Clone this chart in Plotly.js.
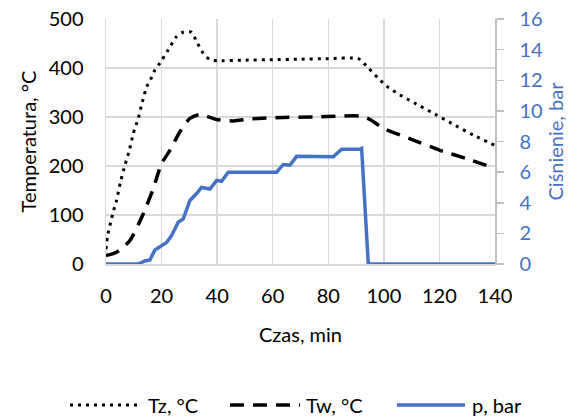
<!DOCTYPE html>
<html><head><meta charset="utf-8">
<script src="https://cdn.plot.ly/plotly-3.0.1.min.js"></script>
<style>html,body{margin:0;padding:0;background:#fff}#chart{width:587px;height:419px}</style>
</head><body><div id="chart"></div>
<script>
// Tz, °C
const tzTime = [0,0.5,2.4,3.8,5.2,6.8,8.4,9.8,11.6,13.1,14.6,16,17.6,19.4,22.4,25.4,27.8,30.8,32.6,35,37.4,40,50,60,70,80,90.8,94.4,98,101,105.8,111.2,119,124.4,132.2,140];
const tzVals = [30,55,102,130,167,201,232,266,297,331,361,376,396,410,437,464,473,473,454,430,417,415,416,417,418,419,419,400,379,363,345,328,304,287,263,242];
// Tw, °C
const twTime = [0,3.8,8.6,13.4,17,20,23,26.6,30.2,33.8,39.8,45.8,51.8,63.8,74.6,84.2,91.4,95,99.8,110.6,120.2,129.8,140];
const twVals = [17,24,48,102,154,205,232,270,297,305,295,292,296,299,300,302,302,295,277,253,232,215,195];
// p, bar
const pTime = [0,11.6,14,15.8,17.6,20,21.8,23.6,26,27.8,29,30.2,32.6,34.4,37.4,39.8,41.6,44,61.4,63.8,66.2,68.6,81.8,84.8,91.4,92,94.4,140];
const pVals = [0,0,0.2,0.26,0.92,1.2,1.4,1.86,2.73,2.95,3.5,4.15,4.6,5.0,4.9,5.46,5.4,6.0,6.0,6.5,6.45,7.03,7.0,7.5,7.5,7.55,0,0];

const xTicks = [0,20,40,60,80,100,120,140];
const yTicks = [0,100,200,300,400,500];
const y2Ticks = [0,2,4,6,8,10,12,14,16];
const names = ['Tz, °C','Tw, °C','p, bar'];

const FONT = 'Lato, "Open Sans", sans-serif';
const FS = 20;
const BLUE = '#4472C4';
const GRID = '#d9d9d9';

const traces = [
  {x: tzTime, y: tzVals, name: names[0], mode: 'lines', line: {color: '#000', width: 3, dash: '3px,5px', shape: 'spline', smoothing: 0.6}, yaxis: 'y'},
  {x: twTime, y: twVals, name: names[1], mode: 'lines', line: {color: '#000', width: 3.5, dash: '14px,9px', shape: 'spline', smoothing: 0.6}, yaxis: 'y'},
  {x: pTime, y: pVals, name: names[2], mode: 'lines', line: {color: BLUE, width: 3.5}, yaxis: 'y2'}
];

// custom legend (paper coords)
const px = v => (v - 106) / 389;
const py = v => (264 - v) / 245;
const legY = py(405);
const legendItems = [
  {x0: 70, x1: 140, tx: 146, color: '#000', w: 3, dash: '3px,5px'},
  {x0: 230, x1: 300, tx: 304, color: '#000', w: 3.5, dash: '14px,9px'},
  {x0: 397, x1: 465, tx: 470, color: BLUE, w: 3.5, dash: 'solid'}
];
const shapes = legendItems.map(it => ({
  type: 'line', xref: 'paper', yref: 'paper', x0: px(it.x0), x1: px(it.x1), y0: legY, y1: legY,
  line: {color: it.color, width: it.w, dash: it.dash}
}));
const annotations = legendItems.map((it, i) => ({
  xref: 'paper', yref: 'paper', x: px(it.tx), y: legY, xanchor: 'left', yanchor: 'middle',
  text: names[i], showarrow: false, font: {family: FONT, size: FS, color: '#000'}
}));

const layout = {
  width: 587, height: 419,
  margin: {l: 106, r: 92, t: 19, b: 155},
  paper_bgcolor: '#fff', plot_bgcolor: '#fff',
  showlegend: false,
  font: {family: FONT, size: FS, color: '#000'},
  xaxis: {
    range: [0, 140], tickvals: xTicks, ticktext: xTicks.map(String),
    showgrid: true, gridcolor: GRID, gridwidth: 1.5,
    zeroline: false, showline: true, linecolor: GRID, linewidth: 1.5,
    ticks: '', ticklabelstandoff: 13, tickfont: {family: FONT, size: FS, color: '#000'},
    title: {text: 'Czas, min', font: {family: FONT, size: FS, color: '#000'}, standoff: 22},
    fixedrange: true
  },
  yaxis: {
    range: [0, 500], tickvals: yTicks, ticktext: yTicks.map(String),
    showgrid: true, gridcolor: GRID, gridwidth: 1.5,
    zeroline: false, showline: true, linecolor: GRID, linewidth: 1.5,
    ticks: '', ticklabelstandoff: 17, tickfont: {family: FONT, size: FS, color: '#000'},
    title: {text: 'Temperatura, °C', font: {family: FONT, size: FS, color: '#000'}, standoff: 6},
    fixedrange: true
  },
  yaxis2: {
    overlaying: 'y', side: 'right', range: [0, 16], tickvals: y2Ticks, ticktext: y2Ticks.map(String),
    showgrid: false, zeroline: false, showline: true, linecolor: '#bfbfbf', linewidth: 1.5,
    ticks: 'outside', ticklen: 7, tickcolor: '#bfbfbf', tickwidth: 1.5,
    ticklabelstandoff: 12,
    tickfont: {family: FONT, size: FS, color: BLUE},
    title: {text: 'Ciśnienie, bar', font: {family: FONT, size: FS, color: BLUE}, standoff: 6},
    fixedrange: true
  },
  shapes: shapes,
  annotations: annotations
};

Plotly.newPlot('chart', traces, layout, {displayModeBar: false, staticPlot: true});
</script>
</body></html>
